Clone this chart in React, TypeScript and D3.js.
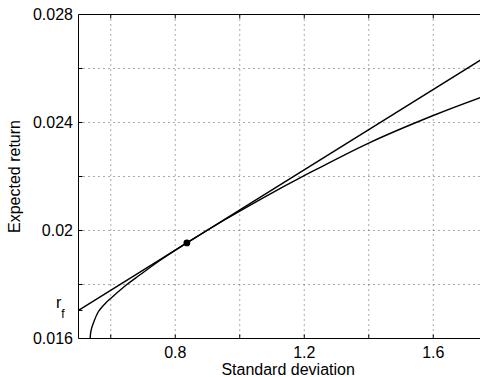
import React from 'react'
import * as d3 from 'd3'

// efficient frontier (std dev, expected return)
const frontierSigma = [0.536, 0.539, 0.547, 0.562, 0.583, 0.604, 0.65, 0.691, 0.75, 0.836, 0.95, 1.074, 1.2, 1.4, 1.6, 1.75, 1.8]
const frontierReturn = [0.016, 0.0163, 0.0166, 0.017, 0.0173, 0.01753, 0.018, 0.01836, 0.01887, 0.01954, 0.02037, 0.02122, 0.02203, 0.02324, 0.02426, 0.02494, 0.02515]

// capital allocation line (start at left edge = r_f, end at right edge)
const rf = 0.01704
const lineSigma = [0.5, 1.8]
const lineReturn = [rf, 0.02671]

// tangency portfolio
const tangentSigma = 0.836
const tangentReturn = 0.01954

const xTicks = [0.6, 0.8, 1.0, 1.2, 1.4, 1.6]
const xLabels = ['0.8', '1.2', '1.6']
const yTicks = [0.018, 0.02, 0.022, 0.024, 0.026]
const yLabels = ['0.016', '0.02', '0.024', '0.028']

const margin = { top: 14.5, left: 78.5, bottom: 338.5 }
const font = '"Liberation Sans", Arial, Helvetica, sans-serif'

export default function App() {
  const W = 480
  const H = 377

  const x = d3.scaleLinear().domain([0.5, 1.8]).range([margin.left, margin.left + 1.3 * 322.5])
  const y = d3.scaleLinear().domain([0.016, 0.028]).range([margin.bottom, margin.top])
  const right = x(1.8)

  const frontier = frontierSigma.map((s, i) => [s, frontierReturn[i]] as [number, number])
  const cal = lineSigma.map((s, i) => [s, lineReturn[i]] as [number, number])

  const line = d3.line<[number, number]>()
    .x(d => x(d[0]))
    .y(d => y(d[1]))
  const smooth = d3.line<[number, number]>()
    .x(d => x(d[0]))
    .y(d => y(d[1]))
    .curve(d3.curveCatmullRom.alpha(0.5))

  const tick = 4

  return (
    <svg width={W} height={H} style={{ position: 'absolute', left: 0, top: 0, background: '#fff' }} fontFamily={font}>
      <defs>
        <clipPath id='plot'>
          <rect x={margin.left} y={margin.top} width={right - margin.left} height={margin.bottom - margin.top} />
        </clipPath>
      </defs>
      <rect width={W} height={H} fill='#fff' />

      {/* grid */}
      <g stroke='#555' strokeWidth={1} strokeDasharray='1,4'>
        {xTicks.map(t => (
          <line key={'gx' + t} x1={x(t)} x2={x(t)} y1={margin.top} y2={margin.bottom} />
        ))}
        {yTicks.map(t => (
          <line key={'gy' + t} x1={margin.left} x2={right} y1={y(t)} y2={y(t)} />
        ))}
      </g>

      {/* axes box */}
      <g stroke='#000' strokeWidth={1} fill='none'>
        <line x1={margin.left} x2={right} y1={margin.top} y2={margin.top} />
        <line x1={margin.left} x2={right} y1={margin.bottom} y2={margin.bottom} />
        <line x1={margin.left} x2={margin.left} y1={margin.top} y2={margin.bottom} />
        {xTicks.map(t => (
          <g key={'tx' + t}>
            <line x1={x(t)} x2={x(t)} y1={margin.bottom} y2={margin.bottom - tick} />
            <line x1={x(t)} x2={x(t)} y1={margin.top} y2={margin.top + tick} />
          </g>
        ))}
        {[...yTicks, rf].map(t => (
          <line key={'ty' + t} x1={margin.left} x2={margin.left + tick} y1={y(t)} y2={y(t)} />
        ))}
      </g>

      {/* curves */}
      <g clipPath='url(#plot)' fill='none' stroke='#000' strokeWidth={1.4}>
        <path d={smooth(frontier) || ''} />
        <path d={line(cal) || ''} />
        <circle cx={x(tangentSigma)} cy={y(tangentReturn)} r={3.4} fill='#000' stroke='none' />
      </g>

      {/* tick labels */}
      <g fontSize={16} fill='#000'>
        {xLabels.map(l => (
          <text key={'lx' + l} x={x(+l)} y={358} textAnchor='middle'>{l}</text>
        ))}
        {yLabels.map(l => (
          <text key={'ly' + l} x={73} y={y(+l)} dy='0.35em' textAnchor='end'>{l}</text>
        ))}
        <text x={56} y={308}>r<tspan dy={10} fontSize={12}>f</tspan></text>
      </g>

      {/* axis titles */}
      <text x={(margin.left + right) / 2} y={375} fontSize={16} textAnchor='middle'>Standard deviation</text>
      <text transform={`translate(19.5, ${(margin.top + margin.bottom) / 2}) rotate(-90)`} fontSize={16} textAnchor='middle'>Expected return</text>
    </svg>
  )
}
